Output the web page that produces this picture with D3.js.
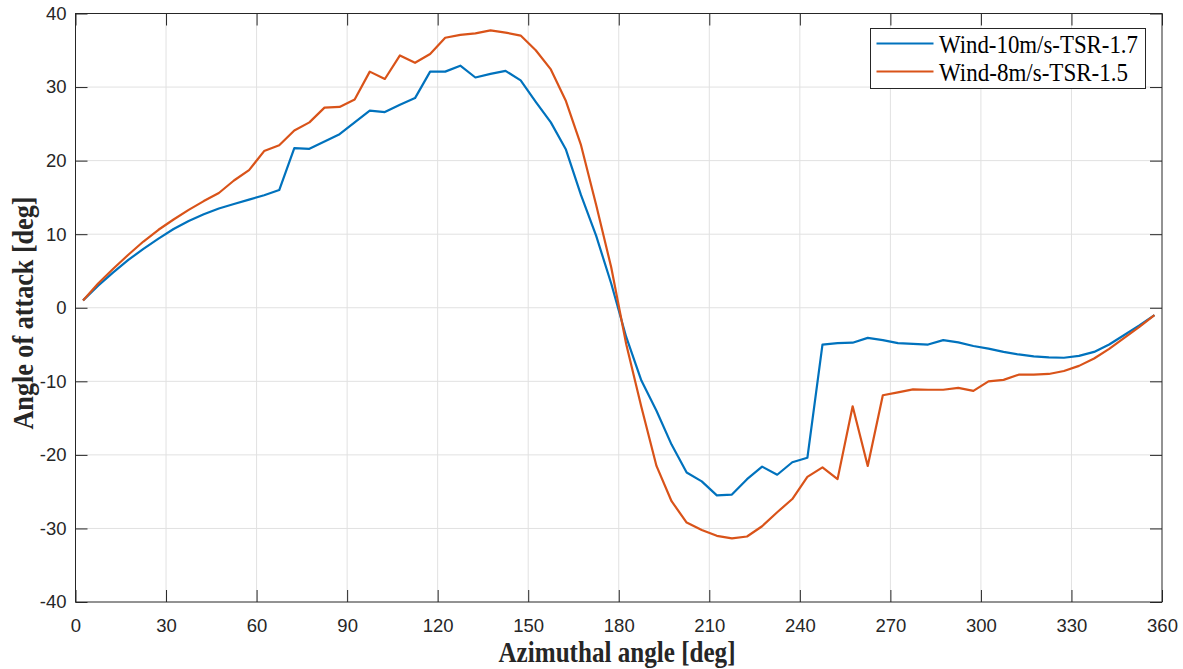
<!DOCTYPE html>
<html>
<head>
<meta charset="utf-8">
<script src="https://cdn.jsdelivr.net/npm/d3@7"></script>
<style>
    body { margin: 0; background: #fff; }
    svg { display: block; }
</style>
</head>
<body>
<svg id="chart" width="1183" height="669"></svg>
<script>
"use strict";

// azimuth positions of the samples (deg)
const azimuth = [
    2.5, 7.5, 12.5, 17.5, 22.5, 27.5, 32.5, 37.5, 42.5, 47.5, 52.5, 57.5,
    62.5, 67.5, 72.5, 77.5, 82.5, 87.5, 92.5, 97.5, 102.5, 107.5, 112.5, 117.5,
    122.5, 127.5, 132.5, 137.5, 142.5, 147.5, 152.5, 157.5, 162.5, 167.5, 172.5, 177.5,
    182.5, 187.5, 192.5, 197.5, 202.5, 207.5, 212.5, 217.5, 222.5, 227.5, 232.5, 237.5,
    242.5, 247.5, 252.5, 257.5, 262.5, 267.5, 272.5, 277.5, 282.5, 287.5, 292.5, 297.5,
    302.5, 307.5, 312.5, 317.5, 322.5, 327.5, 332.5, 337.5, 342.5, 347.5, 352.5, 357.5
];

const aoaWind10 = [
    1.0, 3.0, 4.8, 6.5, 8.0, 9.4, 10.7, 11.8, 12.7, 13.5, 14.1, 14.7,
    15.3, 16.0, 21.7, 21.6, 22.6, 23.6, 25.2, 26.8, 26.6, 27.6, 28.5, 32.1,
    32.1, 32.9, 31.3, 31.8, 32.2, 30.9, 28.0, 25.2, 21.5, 15.3, 9.8, 3.3,
    -4.0, -9.9, -14.0, -18.6, -22.4, -23.6, -25.5, -25.4, -23.3, -21.6, -22.7, -21.0,
    -20.4, -5.0, -4.8, -4.75, -4.1, -4.4, -4.8, -4.9, -5.0, -4.4, -4.7, -5.2,
    -5.55, -6.0, -6.35, -6.6, -6.75, -6.8, -6.55, -6.0, -5.0, -3.7, -2.4, -1.0
];

const aoaWind8 = [
    1.0, 3.3, 5.3, 7.2, 9.0, 10.6, 12.0, 13.3, 14.5, 15.6, 17.3, 18.7,
    21.3, 22.1, 24.1, 25.2, 27.2, 27.3, 28.3, 32.1, 31.1, 34.3, 33.3, 34.5,
    36.7, 37.1, 37.3, 37.7, 37.4, 37.0, 35.0, 32.4, 28.1, 22.1, 14.0, 5.5,
    -5.0, -13.5, -21.5, -26.3, -29.2, -30.2, -31.0, -31.35, -31.1, -29.7, -27.8, -26.0,
    -23.0, -21.7, -23.3, -13.4, -21.5, -11.9, -11.5, -11.1, -11.15, -11.15, -10.9, -11.3,
    -10.0, -9.8, -9.1, -9.1, -9.0, -8.6, -7.9, -6.9, -5.6, -4.1, -2.6, -1.0
];

const seriesNames = ["Wind-10m/s-TSR-1.7", "Wind-8m/s-TSR-1.5"];
const seriesColors = ["#0072BD", "#D95319"];

const xTicks = [0, 30, 60, 90, 120, 150, 180, 210, 240, 270, 300, 330, 360];
const yTicks = [-40, -30, -20, -10, 0, 10, 20, 30, 40];


const margin = { left: 75.5, right: 1162, top: 13.5, bottom: 602 };
const svg = d3.select("#chart");

const x = d3.scaleLinear().domain([0, 360]).range([margin.left, margin.right]);
const y = d3.scaleLinear().domain([-40, 40]).range([margin.bottom, margin.top]);

const tickFont = "'Liberation Sans', Arial, sans-serif";
const labelFont = "'Liberation Serif', 'Times New Roman', serif";
const plainNumber = d => String(d);   // keep the ASCII hyphen as minus sign

// grid
svg.append("g")
    .selectAll("line")
    .data(xTicks.slice(1, -1))
    .enter().append("line")
        .attr("x1", d => x(d)).attr("x2", d => x(d))
        .attr("y1", margin.top).attr("y2", margin.bottom)
        .style("stroke", "#e1e1e1")
        .style("stroke-width", 1);

svg.append("g")
    .selectAll("line")
    .data(yTicks.slice(1, -1))
    .enter().append("line")
        .attr("x1", margin.left).attr("x2", margin.right)
        .attr("y1", d => y(d)).attr("y2", d => y(d))
        .style("stroke", "#e1e1e1")
        .style("stroke-width", 1);

// axes (ticks point inward, mirrored on top / right)
function styleAxis(g) {
    g.select(".domain").remove();
    g.selectAll(".tick line").style("stroke", "#262626");
    g.selectAll(".tick text")
        .style("font-family", tickFont)
        .style("font-size", "18.5px")
        .style("fill", "#262626");
}

svg.append("g")
    .attr("transform", "translate(0," + margin.bottom + ")")
    .call(d3.axisBottom(x).tickValues(xTicks).tickFormat(plainNumber)
        .tickSizeInner(-12).tickSizeOuter(0).tickPadding(17))
    .call(styleAxis);

svg.append("g")
    .attr("transform", "translate(0," + margin.top + ")")
    .call(d3.axisTop(x).tickValues(xTicks).tickSizeInner(-12).tickSizeOuter(0).tickFormat(""))
    .call(styleAxis);

svg.append("g")
    .attr("transform", "translate(" + margin.left + ",0)")
    .call(d3.axisLeft(y).tickValues(yTicks).tickFormat(plainNumber)
        .tickSizeInner(-12).tickSizeOuter(0).tickPadding(9))
    .call(styleAxis);

svg.append("g")
    .attr("transform", "translate(" + margin.right + ",0)")
    .call(d3.axisRight(y).tickValues(yTicks).tickSizeInner(-12).tickSizeOuter(0).tickFormat(""))
    .call(styleAxis);

// frame
svg.append("rect")
    .attr("x", margin.left).attr("y", margin.top)
    .attr("width", margin.right - margin.left)
    .attr("height", margin.bottom - margin.top)
    .style("fill", "none")
    .style("stroke", "#262626")
    .style("stroke-width", 1);

// curves
const line = d3.line()
    .x((d, i) => x(azimuth[i]))
    .y(d => y(d));

svg.append("g")
    .selectAll("path")
    .data([aoaWind10, aoaWind8])
    .enter().append("path")
        .attr("d", line)
        .style("fill", "none")
        .style("stroke", (d, i) => seriesColors[i])
        .style("stroke-width", 2.2)
        .style("stroke-linejoin", "round");

// axis labels
svg.append("text")
    .attr("x", 617)
    .attr("y", 661.5)
    .attr("text-anchor", "middle")
    .attr("textLength", 237)
    .attr("lengthAdjust", "spacingAndGlyphs")
    .style("font-family", labelFont)
    .style("font-weight", "bold")
    .style("font-size", "29px")
    .style("fill", "#262626")
    .text("Azimuthal angle [deg]");

svg.append("text")
    .attr("transform", "translate(33,313) rotate(-90)")
    .attr("text-anchor", "middle")
    .attr("textLength", 233)
    .attr("lengthAdjust", "spacingAndGlyphs")
    .style("font-family", labelFont)
    .style("font-weight", "bold")
    .style("font-size", "29px")
    .style("fill", "#262626")
    .text("Angle of attack [deg]");

// legend
const legend = svg.append("g").attr("transform", "translate(870.5,28.5)");

legend.append("rect")
    .attr("width", 275).attr("height", 60)
    .style("fill", "#fff")
    .style("stroke", "#262626")
    .style("stroke-width", 1);

const item = legend.selectAll("g")
    .data(seriesNames)
    .enter().append("g")
        .attr("transform", (d, i) => "translate(0," + (15 + i * 28) + ")");

item.append("line")
    .attr("x1", 6).attr("x2", 63)
    .style("stroke", (d, i) => seriesColors[i])
    .style("stroke-width", 2.2);

item.append("text")
    .attr("x", 68.5)
    .attr("dy", "0.35em")
    .attr("textLength", (d, i) => [199, 189][i])
    .attr("lengthAdjust", "spacingAndGlyphs")
    .style("font-family", labelFont)
    .style("font-size", "26px")
    .style("fill", "#000")
    .text(d => d);
</script>
</body>
</html>
